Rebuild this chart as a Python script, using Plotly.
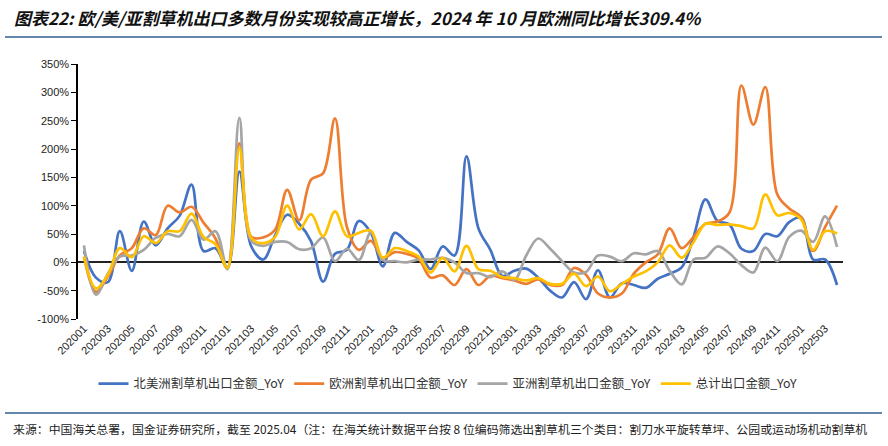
import plotly.graph_objects as go

months = [f"{y}{m:02d}" for y in range(2020, 2026) for m in range(1, 13)][:64]
tick_labels = months[::2]
y_ticks = list(range(-100, 351, 50))
y_tick_text = [f"{v}%" for v in y_ticks]

north_america = [20, -27, -35, 55, -15, 72, 30, 60, 82, 137, 20, 25,
                 -10, 160, 28, 5, 48, 84, 68, 37, -34, 15, 22, 73,
                 52, -7, 52, 36, 21, -12, 28, 12, 187, 60, 22, -24,
                 -15, -11, -27, -50, -62, -35, -65, -14, -62, -37, -40, -45,
                 -29, -20, -9, 45, 111, 73, 67, 24, 20, 50, 46, 71,
                 79, 5, 5, -40]
europe = [10, -52, -25, 12, 25, 60, 48, 100, 88, 98, 70, 42,
          -10, 210, 45, 44, 58, 128, 74, 146, 157, 254, 62, 22,
          38, 8, 18, 15, 6, -27, -23, -40, -12, -40, -24, -28,
          -32, -38, -30, -40, -40, -10, -22, -55, -62, -55, -20, 0,
          14, 60, 25, 45, 68, 72, 88, 312, 243, 309.4, 120, 95,
          80, 20, 62, 100]
asia = [30, -57, -20, 10, 12, 22, 43, 50, 46, 75, 40, 55,
        -12, 255, 38, 29, 36, 36, 23, 25, 44, 2, 24, 4,
        53, 4, 2, 0, 5, 5, 8, 0, -19, -19, -26, -16,
        -31, 12, 42, 24, 2, -18, -17, 12, 10, 2, 16, 14,
        20, -15, -39, 5, 8, 28, 16, -5, -18, 26, 2, 45,
        56, 36, 81, 27]
total = [10, -46, -22, 25, 9, 46, 34, 55, 55, 86, 45, 32,
         -10, 202, 43, 34, 45, 100, 58, 85, 46, 90, 46, 52,
         56, 8, 25, 20, 10, -18, 8, -16, 29, -12, -15, -26,
         -28, -32, -28, -38, -38, -20, -42, -25, -51, -38, -25, -16,
         0, 30, 8, 36, 68, 66, 67, 64, 60, 120, 83, 87,
         76, 22, 55, 51]

series = [
    ("北美洲割草机出口金额_YoY", north_america, "#4472C4"),
    ("欧洲割草机出口金额_YoY", europe, "#ED7D31"),
    ("亚洲割草机出口金额_YoY", asia, "#A5A5A5"),
    ("总计出口金额_YoY", total, "#FFC000"),
]

fig = go.Figure()
for name, vals, color in series:
    fig.add_trace(go.Scatter(
        x=months, y=vals, name=name, mode="lines",
        line=dict(color=color, width=2.7, shape="spline", smoothing=1.0),
    ))

L, R, T, B = 78, 45, 64, 127
W, H = 888, 446
pw = W - L - R
ph = H - T - B

def px(x):
    return (x - L) / pw

def py(y):
    return (H - B - y) / ph

font_cjk = "Noto Sans CJK SC, Liberation Sans, sans-serif"

fig.update_layout(
    width=W, height=H,
    margin=dict(l=L, r=R, t=T, b=B, pad=0),
    paper_bgcolor="white", plot_bgcolor="white",
    title=dict(
        text="<b><i>图表22: 欧/美/亚割草机出口多数月份实现较高正增长，2024 年 10 月欧洲同比增长309.4%</i></b>",
        x=14 / W, xanchor="left", xref="container",
        y=1 - 19 / H, yanchor="middle", yref="container",
        font=dict(family=font_cjk, size=17, color="#111"),
    ),
    showlegend=True,
    legend=dict(
        orientation="h", x=px(448), xanchor="center",
        y=py(384), yanchor="middle",
        font=dict(family=font_cjk, size=12.4, color="#333"),
        itemwidth=30, tracegroupgap=0,
    ),
    xaxis=dict(
        type="category", range=[-0.5, 63.5],
        tickmode="array", tickvals=tick_labels, ticktext=tick_labels,
        tickangle=-45, showline=False, showgrid=False, zeroline=False,
        ticks="", tickfont=dict(family="Liberation Sans, Arial", size=11, color="#222"),
    ),
    yaxis=dict(
        range=[-100, 350], tickmode="array", tickvals=y_ticks, ticktext=y_tick_text,
        showgrid=False,
        showline=True, linecolor="black", linewidth=1.5,
        ticks="outside", ticklen=5, tickcolor="black", tickwidth=1.2,
        zeroline=True, zerolinecolor="#222", zerolinewidth=1.5,
        tickfont=dict(family="Liberation Sans, Arial", size=11, color="#222"),
    ),
    shapes=[
        dict(type="line", xref="paper", yref="paper",
             x0=px(5), x1=px(882), y0=py(37), y1=py(37),
             line=dict(color="#2F5F8F", width=1.5)),
        dict(type="line", xref="paper", yref="paper",
             x0=px(5), x1=px(882), y0=py(413), y1=py(413),
             line=dict(color="#2F5F8F", width=1.5)),
    ],
    annotations=[
        dict(xref="paper", yref="paper", x=px(11), y=py(428),
             xanchor="left", yanchor="middle", showarrow=False,
             text="来源：中国海关总署，国金证券研究所，截至 2025.04（注：在海关统计数据平台按 8 位编码筛选出割草机三个类目：割刀水平旋转草坪、公园或运动场机动割草机",
             font=dict(family=font_cjk, size=11.9, color="#222")),
    ],
)

fig.write_html("out.html", config={"displayModeBar": False},
               post_script="document.body.style.margin='0';document.body.style.padding='0';")
